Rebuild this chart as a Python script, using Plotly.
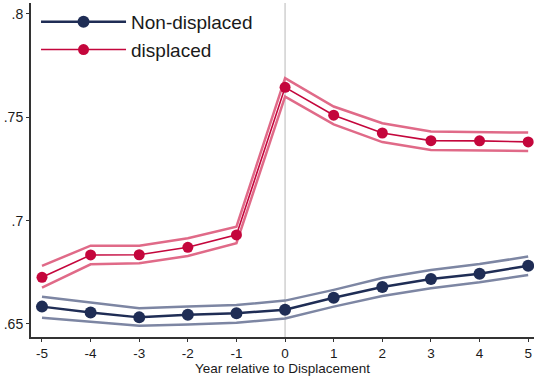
import plotly.graph_objects as go

years = [-5, -4, -3, -2, -1, 0, 1, 2, 3, 4, 5]
xtick_text = ["-5", "-4", "-3", "-2", "-1", "0", "1", "2", "3", "4", "5"]

nondisp = [0.6584, 0.6555, 0.6532, 0.6545, 0.6552, 0.6569, 0.6627, 0.6679, 0.6718, 0.6743, 0.6782]
nondisp_hi = [0.6632, 0.6605, 0.6576, 0.6584, 0.6592, 0.6613, 0.6665, 0.6722, 0.6761, 0.6790, 0.6826]
nondisp_lo = [0.6530, 0.6511, 0.6492, 0.6498, 0.6506, 0.6527, 0.6584, 0.6635, 0.6673, 0.6702, 0.6737]

disp = [0.6726, 0.6834, 0.6835, 0.6871, 0.6931, 0.7645, 0.7510, 0.7424, 0.7387, 0.7386, 0.7381]
disp_hi = [0.6781, 0.6879, 0.6879, 0.6915, 0.6971, 0.7689, 0.7552, 0.7471, 0.7431, 0.7430, 0.7426]
disp_lo = [0.6676, 0.6789, 0.6794, 0.6829, 0.6891, 0.7600, 0.7466, 0.7380, 0.7342, 0.7341, 0.7337]

ytick_vals = [0.65, 0.7, 0.75, 0.8]
ytick_text = [".65", ".7", ".75", ".8"]

navy = "#1f2d55"
navy_ci = "#7d86a3"
red = "#c4063c"
red_ci = "#e06a88"

fig = go.Figure()
for y, c in [(nondisp_hi, navy_ci), (nondisp_lo, navy_ci), (disp_hi, red_ci), (disp_lo, red_ci)]:
    fig.add_trace(go.Scatter(x=years, y=y, mode="lines", line=dict(color=c, width=2.5),
                             showlegend=False, hoverinfo="skip"))
fig.add_trace(go.Scatter(x=years, y=nondisp, mode="lines+markers", name="Non-displaced",
                         line=dict(color=navy, width=2.5), marker=dict(color=navy, size=12)))
fig.add_trace(go.Scatter(x=years, y=disp, mode="lines+markers", name="displaced",
                         line=dict(color=red, width=1.6), marker=dict(color=red, size=11)))

fig.add_vline(x=0, line=dict(color="#d0d0d0", width=1.5), layer="below")

fig.update_layout(
    width=536, height=376,
    margin=dict(l=31, r=2, t=3, b=39),
    plot_bgcolor="white", paper_bgcolor="white",
    font=dict(family="Liberation Sans, Arial, sans-serif", color="#1a1a1a", size=14),
    legend=dict(x=0.01, y=1.0, xanchor="left", yanchor="top", bgcolor="rgba(0,0,0,0)",
                font=dict(size=19), itemwidth=85, tracegroupgap=0),
    showlegend=True,
)
fig.update_xaxes(range=[-5.226, 5.12], tickvals=years, ticktext=xtick_text, showgrid=False,
                 zeroline=False, showline=True, linecolor="#333333", linewidth=2,
                 ticks="outside", ticklen=3, tickcolor="#333333", tickfont=dict(size=13.5),
                 ticklabelstandoff=0,
                 title=dict(text="Year relative to Displacement", font=dict(size=13.5), standoff=0))
fig.update_yaxes(range=[0.6437, 0.8053], tickvals=ytick_vals, ticktext=ytick_text, showgrid=False,
                 zeroline=False, showline=True, linecolor="#333333", linewidth=2, ticks="outside",
                 ticklen=3, tickcolor="#333333", tickfont=dict(size=14))

fig.write_html("out.html")
